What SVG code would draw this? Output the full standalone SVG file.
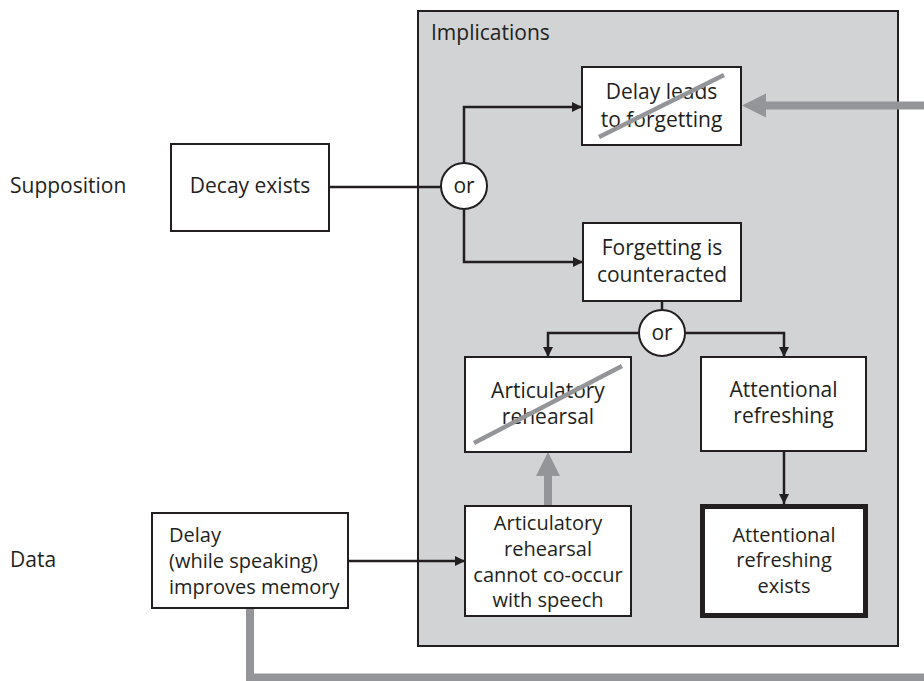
<svg xmlns="http://www.w3.org/2000/svg" width="924" height="681" viewBox="0 0 924 681">
<defs>
<style>
text{font-family:"Open Sans","Liberation Sans",sans-serif;font-size:20px;fill:#231f20}
.lb{font-size:21px}
.c{text-anchor:middle}
.box{fill:#fff;stroke:#231f20;stroke-width:2}
.ln{fill:none;stroke:#231f20;stroke-width:2.5}
.gr{fill:none;stroke:#939598;stroke-width:8}
.strike{stroke:#939598;stroke-width:4.5;stroke-linecap:butt}
</style>
<marker id="ah" viewBox="0 0 10 10" refX="10" refY="5" markerWidth="4" markerHeight="4" orient="auto" markerUnits="strokeWidth">
<path d="M0,0L10,5L0,10z" fill="#231f20"/>
</marker>
</defs>
<rect width="924" height="681" fill="#fff"/>
<g id="panel">
<rect x="418" y="11" width="480" height="635" fill="#d1d3d4" stroke="#231f20" stroke-width="2"/>
<text class="lb" x="431" y="40">Implications</text>
</g>
<g id="labels">
<text class="lb" x="10" y="193">Supposition</text>
<text class="lb" x="10" y="567">Data</text>
</g>
<g id="connectors">
<path class="ln" d="M329,187H441"/>
<path class="ln" d="M464,163V107H582" marker-end="url(#ah)"/>
<path class="ln" d="M464,209V262H583" marker-end="url(#ah)"/>
<path class="ln" d="M662,301V310"/>
<path class="ln" d="M639,333H548V357" marker-end="url(#ah)"/>
<path class="ln" d="M685,333H784V357" marker-end="url(#ah)"/>
<path class="ln" d="M784,451V504" marker-end="url(#ah)"/>
<path class="ln" d="M348,561H465" marker-end="url(#ah)"/>
<path class="gr" d="M250,608V677.5H940V105.5H764"/>
<path d="M742,105.5L766,93.5V117.5z" fill="#939598"/>
<path class="gr" d="M548,506V473" stroke-width="9"/>
<path d="M548,452L536,476H560z" fill="#939598"/>
</g>
<g id="or1">
<circle cx="464" cy="186" r="23" fill="#fff" stroke="#231f20" stroke-width="2"/>
<text class="c lb" x="464" y="193">or</text>
</g>
<g id="or2">
<circle cx="662" cy="333" r="23" fill="#fff" stroke="#231f20" stroke-width="2"/>
<text class="c lb" x="662" y="340">or</text>
</g>
<g id="decay">
<rect class="box" x="171" y="144" width="158" height="87"/>
<text class="c lb" x="250" y="193">Decay exists</text>
</g>
<g id="delay-leads">
<rect class="box" x="582" y="67" width="159" height="78"/>
<text class="c lb" x="661.5" y="99">Delay leads</text>
<text class="c lb" x="661.5" y="127">to forgetting</text>
<line class="strike" x1="599" y1="137" x2="724" y2="75"/>
</g>
<g id="forgetting">
<rect class="box" x="583" y="223" width="158" height="78"/>
<text class="c lb" x="662" y="255">Forgetting is</text>
<text class="c lb" x="662" y="282">counteracted</text>
</g>
<g id="artic">
<rect class="box" x="465" y="357" width="166" height="95"/>
<text class="c lb" x="548" y="398">Articulatory</text>
<text class="c lb" x="548" y="424">rehearsal</text>
<line class="strike" x1="474" y1="443" x2="622" y2="366"/>
</g>
<g id="attn">
<rect class="box" x="701" y="357" width="165" height="94"/>
<text class="c lb" x="783.5" y="397">Attentional</text>
<text class="c lb" x="783.5" y="423">refreshing</text>
</g>
<g id="cannot">
<rect class="box" x="465" y="506" width="166" height="110"/>
<text class="c" x="548" y="530">Articulatory</text>
<text class="c" x="548" y="556">rehearsal</text>
<text class="c" x="548" y="582">cannot co-occur</text>
<text class="c" x="548" y="607">with speech</text>
</g>
<g id="attn-exists">
<rect x="702.5" y="506.5" width="163" height="109" fill="#fff" stroke="#231f20" stroke-width="5"/>
<text class="c" x="784" y="542">Attentional</text>
<text class="c" x="784" y="567">refreshing</text>
<text class="c" x="784" y="593">exists</text>
</g>
<g id="data">
<rect class="box" x="152" y="513" width="196" height="95"/>
<text x="169" y="542">Delay</text>
<text x="169" y="568">(while speaking)</text>
<text x="169" y="594">improves memory</text>
</g>
</svg>
